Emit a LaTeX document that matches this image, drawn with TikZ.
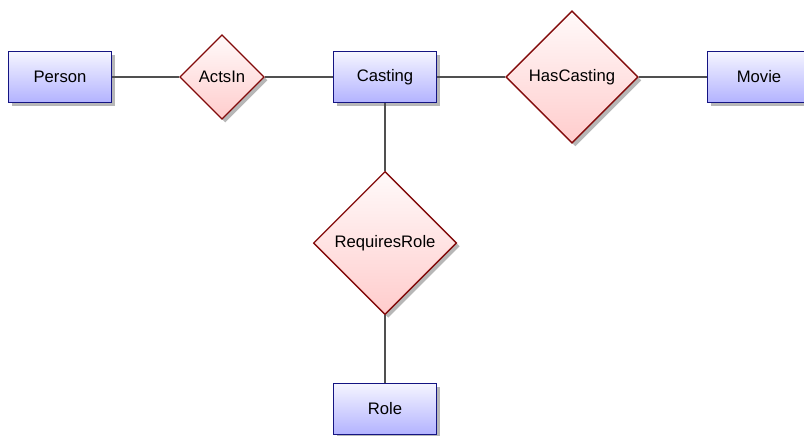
\documentclass[tikz,border=0pt]{standalone}
\usepackage{fontspec}
\setmainfont{Liberation Sans}
\usepackage{tikz}
\usetikzlibrary{shapes.geometric,shadows}

\definecolor{entline}{RGB}{20,20,130}
\definecolor{relline}{RGB}{130,10,10}
\definecolor{linkgray}{RGB}{80,80,80}

\begin{document}
\begin{tikzpicture}[x=0.6pt,y=-0.6pt,
  entity/.style={draw=entline,line width=0.8pt,rectangle,top color=blue!4,bottom color=blue!30,
    minimum width=62pt,minimum height=30.5pt,font=\normalsize,
    drop shadow={shadow xshift=2pt,shadow yshift=-2pt,fill=black!40,opacity=0.7}},
  relation/.style={draw=relline,line width=0.8pt,diamond,aspect=1,inner sep=4pt,
    top color=red!2,bottom color=red!20,font=\normalsize,
    drop shadow={shadow xshift=2pt,shadow yshift=-2pt,fill=black!40,opacity=0.7}},
  link/.style={draw=linkgray,line width=0.7pt}]

\useasboundingbox (0,0) rectangle (804,435) ;

\node[entity] (person) at (60,77) {Person} ;
\node[relation] (actsin) at (222,77) {ActsIn} ;
\node[entity] (casting) at (385,77) {Casting} ;
\node[relation,inner sep=4.6pt] (hascasting) at (572,77) {HasCasting} ;
\node[entity] (movie) at (759,77) {Movie} ;
\node[relation] (requiresrole) at (385,243) {RequiresRole} ;
\node[entity] (role) at (385,409) {Role} ;

\draw[link] (person) -- (actsin) ;
\draw[link] (actsin) -- (casting) ;
\draw[link] (casting) -- (hascasting) ;
\draw[link] (hascasting) -- (movie) ;
\draw[link] (casting) -- (requiresrole) ;
\draw[link] (requiresrole) -- (role) ;

\end{tikzpicture}
\end{document}
